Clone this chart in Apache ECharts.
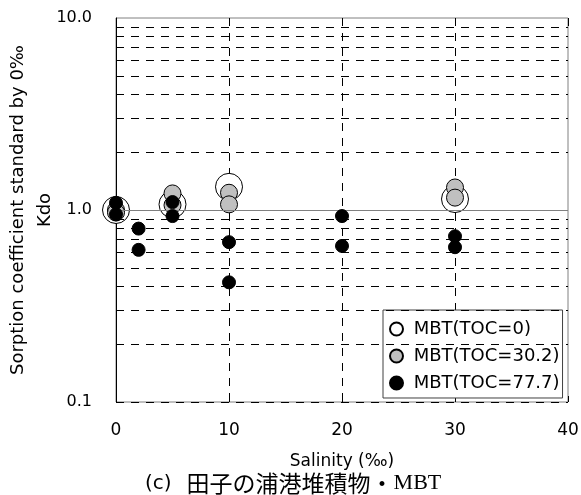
<!DOCTYPE html>
<html>
<head>
<meta charset="utf-8">
<script src="https://cdn.jsdelivr.net/npm/echarts@6/dist/echarts.min.js"></script>
<style>
  html, body { margin: 0; padding: 0; background: #fff; }
  #chart { width: 581px; height: 495px; }
</style>
</head>
<body>
<div id="chart"></div>
<script>
// Kdo (sorption coefficient normalised to 0‰) versus salinity, MBT on Tagonoura harbour sediment
const seriesNames = ['MBT(TOC=0)', 'MBT(TOC=30.2)', 'MBT(TOC=77.7)'];

// [salinity ‰, Kdo]
const tocZero = [[0, 1.0], [5, 1.07], [10, 1.32], [30, 1.14]];
const toc302 = [[0, 1.0], [0, 0.97], [5, 1.22], [5, 1.06], [10, 1.23], [10, 1.07], [30, 1.31], [30, 1.16]];
const toc777 = [[0, 1.09], [0, 0.95], [2, 0.80], [2, 0.62], [5, 1.10], [5, 0.93], [10, 0.68], [10, 0.42], [20, 0.93], [20, 0.65], [30, 0.73], [30, 0.64]];

const xTicks = [0, 10, 20, 30, 40];
const yTicks = [0.1, 1, 10];
// Minor log grid lines drawn dashed
const minorGrid = [0.1, 0.2, 0.3, 0.4, 0.5, 0.6, 0.7, 0.8, 0.9, 2, 3, 4, 5, 6, 7, 8, 9];

const sans = 'DejaVu Sans, Noto Sans CJK JP, sans-serif';

const chart = echarts.init(document.getElementById('chart'), null, { renderer: 'canvas' });

const xBase = {
  type: 'value',
  min: xTicks[0],
  max: xTicks[xTicks.length - 1],
  interval: 10
};

chart.setOption({
  animation: false,
  backgroundColor: '#fff',
  title: {
    left: 140,
    top: 467,
    text: '{a|(c)}   {b|田子の浦港堆積物・}{c|MBT}',
    textStyle: {
      rich: {
        a: { fontFamily: sans, fontSize: 20, fontWeight: 'normal', color: '#000' },
        b: { fontFamily: 'Noto Sans CJK JP', fontSize: 23, fontWeight: 'normal', color: '#000' },
        c: { fontFamily: 'Liberation Serif, serif', fontSize: 22, fontWeight: 'normal', color: '#000' }
      }
    }
  },
  grid: {
    left: 116, right: 13, top: 18, bottom: 93,
    containLabel: false,
    outerBoundsMode: 'none',
    show: true, borderColor: '#808080', borderWidth: 1, backgroundColor: 'transparent'
  },
  legend: {
    orient: 'vertical',
    left: 383,
    top: 310,
    backgroundColor: '#fff',
    borderColor: '#404040',
    borderWidth: 1,
    borderRadius: 0,
    padding: [10, 3, 6, 6],
    itemGap: 9,
    itemWidth: 13,
    itemHeight: 13,
    icon: 'circle',
    formatter: n => ' ' + n,
    textStyle: { fontFamily: sans, fontSize: 18, color: '#000' },
    data: seriesNames
  },
  xAxis: [
    Object.assign({}, xBase, {
      position: 'bottom',
      name: 'Salinity (‰)',
      nameLocation: 'middle',
      nameGap: 51,
      nameMoveOverlap: false,
      nameTextStyle: { fontFamily: sans, fontSize: 17, color: '#000' },
      axisLine: { show: false },
      axisTick: { show: true, inside: true, length: 6, lineStyle: { color: '#000' } },
      axisLabel: { fontFamily: sans, fontSize: 17, color: '#000', margin: 20 },
      splitLine: {
        show: true, showMinLine: false, showMaxLine: false,
        lineStyle: { color: '#000', type: [8, 7], width: 1 }
      }
    }),
    Object.assign({}, xBase, {
      position: 'top',
      axisLine: { show: false },
      axisTick: { show: true, inside: true, length: 8, lineStyle: { color: '#000' } },
      axisLabel: { show: false },
      splitLine: { show: false }
    })
  ],
  yAxis: {
    type: 'log',
    logBase: 10,
    min: yTicks[0],
    max: yTicks[yTicks.length - 1],
    name: 'Sorption coefficient standard by 0‰\nKdo',
    nameLocation: 'middle',
    nameRotate: 90,
    nameGap: 57,
    nameMoveOverlap: false,
    nameTextStyle: { fontFamily: sans, fontSize: 18, color: '#000', lineHeight: 27 },
    axisLine: { show: true, onZero: false, lineStyle: { color: '#000', width: 1 } },
    axisTick: { show: false },
    axisLabel: {
      fontFamily: sans, fontSize: 16, color: '#000', margin: 24,
      formatter: v => Number(v).toFixed(1)
    },
    splitLine: { show: false }
  },
  series: [
    {
      name: seriesNames[0],
      type: 'scatter',
      data: tocZero,
      symbol: 'circle',
      symbolSize: 27,
      itemStyle: { color: '#fff', borderColor: '#000', borderWidth: 1, opacity: 1 },
      z: 3,
      markLine: {
        silent: true,
        symbol: 'none',
        label: { show: false },
        animation: false,
        data: minorGrid.map(v => ({ yAxis: v, lineStyle: { color: '#000', type: [8, 7], width: 1 } }))
          .concat([{ yAxis: 1, lineStyle: { color: '#808080', type: 'solid', width: 1 } }])
      }
    },
    {
      name: seriesNames[1],
      type: 'scatter',
      data: toc302,
      symbol: 'circle',
      symbolSize: 17,
      itemStyle: { color: '#c0c0c0', borderColor: '#000', borderWidth: 1, opacity: 1 },
      z: 4
    },
    {
      name: seriesNames[2],
      type: 'scatter',
      data: toc777,
      symbol: 'circle',
      symbolSize: 13,
      itemStyle: { color: '#000', borderColor: '#000', borderWidth: 1, opacity: 1 },
      z: 5
    }
  ]
});
</script>
</body>
</html>
